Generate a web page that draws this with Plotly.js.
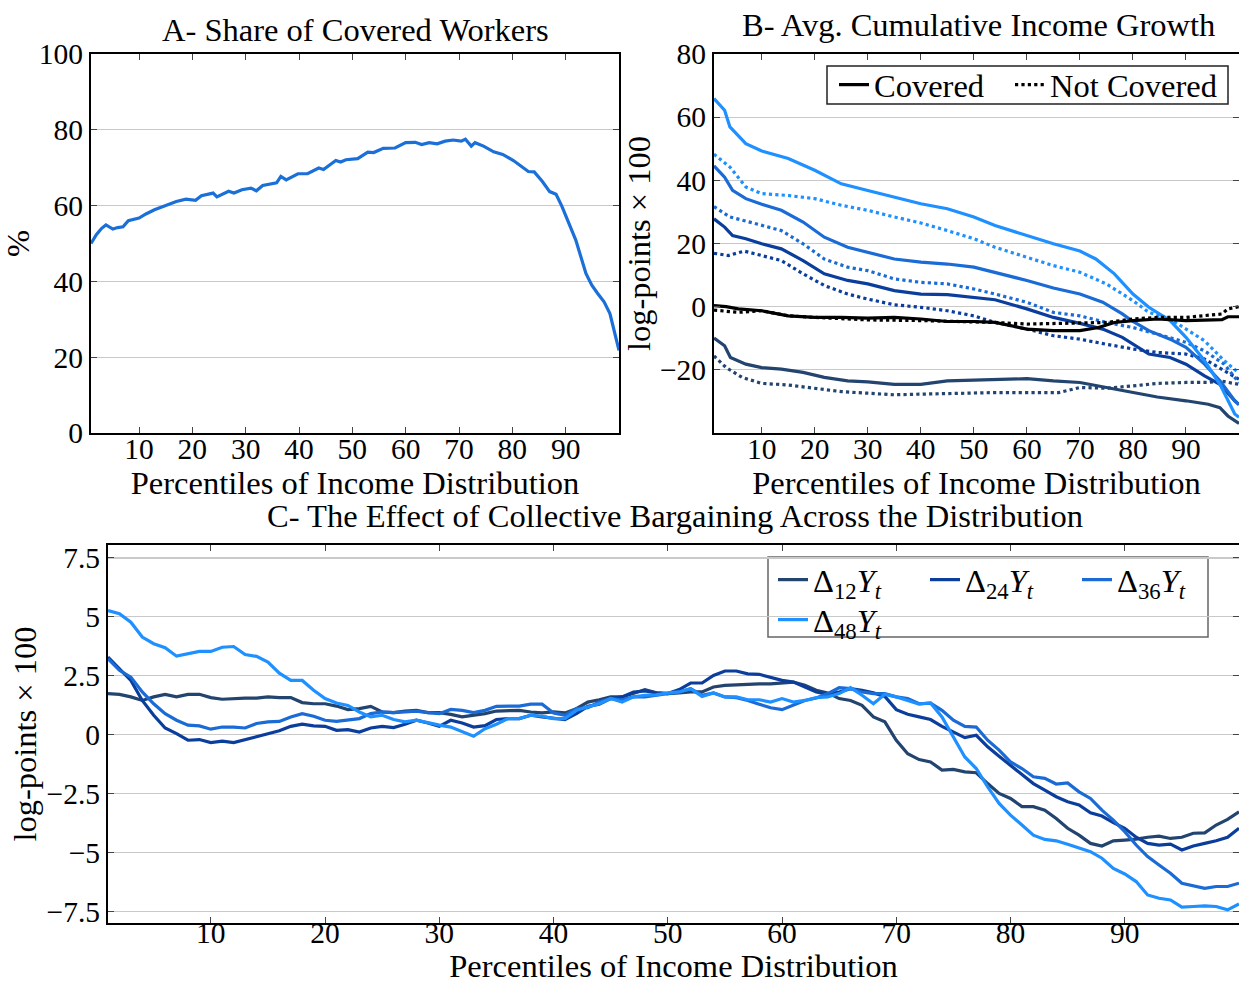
<!DOCTYPE html>
<html><head><meta charset="utf-8">
<script src="https://cdn.plot.ly/plotly-3.0.1.min.js"></script>
<style>html,body{margin:0;padding:0;background:#fff}#chart{width:1239px;height:984px}</style>
</head><body><div id="chart"></div>
<script>
// ---------- Panel A: share of covered workers ----------
const pctA = [1,2,3,3.8,5.1,6,7,8,10,11.3,12.9,15,17,18.8,20.6,21.7,23.9,24.6,26.8,27.8,29.3,31,32,33.2,35.8,36.6,37.6,39.8,41.6,43.7,44.6,46.9,47.8,48.8,51,52.9,54,55.8,58,60,61.8,63,64.4,65.9,67.4,68.9,70.4,71.2,72.3,73,74.6,76.5,78.2,80.2,81.7,83,84.1,85.6,87,88.2,89.3,90.8,91.9,93.8,94.9,96,97.2,98.3,100];
const shareCovered = [50.0,52.3,54.0,54.9,53.8,54.2,54.4,56.0,56.7,57.8,58.9,60.0,61.1,61.7,61.4,62.6,63.3,62.3,63.8,63.3,64.2,64.6,63.9,65.3,66.0,67.7,66.8,68.4,68.4,69.9,69.5,71.9,71.5,72.1,72.4,74.1,74.0,75.1,75.2,76.6,76.7,76.1,76.6,76.3,77.0,77.3,77.0,77.5,75.7,76.6,75.7,74.2,73.5,71.9,70.4,69.0,68.9,66.4,63.7,63.0,59.8,54.5,50.9,42.1,39.0,36.8,34.6,31.5,21.8];

// ---------- Panel B: avg. cumulative income growth ----------
const bX_blackC = [1,3.3,5.6,10,15,20,25,30,35,40,45,50,54,60,65,70,73.5,76.5,80,84.6,90,94.2,96.8,97.9,100];
const bY_blackC = [0.3,0,-0.7,-1.3,-2.9,-3.4,-3.4,-3.6,-3.4,-3.9,-4.7,-4.7,-5,-7.1,-7.6,-7.6,-6.6,-5,-4.4,-3.9,-4.4,-4.2,-4.1,-3.2,-3.2];
const bX_blackN = [1,5.6,10,15,20,30,40,50,54,60,65,70,75,80,84.6,90,94.2,96.8,97.9,100];
const bY_blackN = [-1.1,-1.8,-1.3,-2.9,-3.4,-4.2,-4.4,-4.7,-5,-5.5,-5.3,-5.3,-5,-3.9,-3.4,-3.4,-2.6,-2.3,-0.7,0];
const bX_12C = [1,3,4.1,7,10,13.7,17.8,21.8,26.2,30,35,40,45,50,54,60,65,70,75,80,84.6,90,94.2,96.4,97.9,100];
const bY_12C = [-9.9,-12.4,-16.1,-18.2,-19.3,-19.8,-20.8,-22.4,-23.5,-23.8,-24.6,-24.6,-23.5,-23.3,-23,-22.8,-23.5,-24,-25.6,-27.2,-28.6,-29.8,-30.9,-32,-34.6,-37];
const bX_12N = [1,3.3,6.3,10,15,20,25,30,35,40,45,50,54,60,66,70,75,80,84.6,90,94.2,96.4,100];
const bY_12N = [-15.6,-19.3,-22.4,-24.3,-24.8,-25.8,-26.9,-27.4,-27.9,-27.7,-27.5,-27.2,-27.2,-27.2,-27.2,-25.6,-25.8,-25.1,-24.3,-24,-24,-23.5,-24.6];
const bX_24C = [1,3,4.5,7,10,13.7,17.8,21.8,26.2,30,35,40,45,50,54,60,65,70,74.3,78,80,83,87,90,93.5,96.4,99.2,100];
const bY_24C = [27.8,25.2,22.5,21.5,19.9,18.3,14.6,10.4,8.3,7.2,5.1,4,3.8,3,2.2,-0.7,-3.4,-5.3,-7.1,-9.7,-11.9,-15,-16.1,-18.2,-21.9,-24.6,-29.8,-31];
const bX_24N = [1,3.7,6.7,10,13.7,17.8,21.8,26.2,30,35,40,45,50,54,60,65,70,75,80,84.6,90,93.5,97.2,99.2,100];
const bY_24N = [16.9,16.2,17.6,16.2,14.6,10.4,6.7,4,2.4,0.6,-0.2,-1.3,-2.9,-5,-7.1,-9.2,-10.3,-11.9,-13.4,-14.5,-15,-16.6,-20.3,-22.4,-23];
const bX_36C = [1,3,4.5,7,10,13.7,17.8,21.8,26.2,30,35,40,45,50,54,60,65,70,74.3,78,80,83,87,90,93.5,96.4,99.2,100];
const bY_36C = [44.6,41,36.8,34.2,32.4,30.5,26.8,22,18.8,17.2,15.1,14.1,13.5,12.5,10.9,8.3,5.9,4,1.4,-2.3,-4.7,-7.6,-10.3,-12.9,-18.2,-23.5,-29.8,-31];
const bX_36N = [1,4,7,10,13.7,17.8,21.8,26.2,30,35,40,45,50,54,60,65,70,75,80,84.6,90,93.5,97.2,99.2,100];
const bY_36N = [31.7,28.4,27.1,25.7,24.1,19.9,15.1,12.5,11.4,8.8,7.7,7.2,5.6,4,1.4,-1.8,-2.9,-5,-6.6,-8.7,-11.3,-14,-18.2,-22.4,-24];
const bX_48C = [1,3,4,7,10,15,20,25,30,35,40,45,50,54,60,65,70,73,76.5,80,83,87,90,93.5,96.4,99.2,100];
const bY_48C = [65.9,62.2,56.9,51.6,49.3,46.9,43.2,38.9,36.8,34.7,32.6,31,28.4,25.7,22.5,19.9,17.6,15.1,10.4,4,-0.2,-4.4,-9.7,-17.1,-24.6,-34,-35];
const bX_48N = [1,4,7,10,15,20,25,30,35,40,45,50,54,60,65,70,75,80,83,87,90,93.5,97.2,99.2,100];
const bY_48N = [48.3,44.2,37.9,35.8,35.2,34.2,32.1,30.5,28.4,26.5,24.1,21.5,18.8,15.7,13,10.9,7.2,1.9,-1.8,-3.9,-7.1,-10.8,-17.1,-19.8,-21];

// ---------- Panel C: effect of collective bargaining ----------
const pctC = [1,2,3,4,5,6,7,8,9,10,11,12,13,14,15,16,17,18,19,20,21,22,23,24,25,26,27,28,29,30,31,32,33,34,35,36,37,38,39,40,41,42,43,44,45,46,47,48,49,50,51,52,53,54,55,56,57,58,59,60,61,62,63,64,65,66,67,68,69,70,71,72,73,74,75,76,77,78,79,80,81,82,83,84,85,86,87,88,89,90,91,92,93,94,95,96,97,98,99,100];
const effect12 = [1.74,1.71,1.60,1.45,1.60,1.71,1.60,1.71,1.71,1.57,1.50,1.53,1.55,1.55,1.60,1.57,1.57,1.36,1.31,1.31,1.21,1.06,1.10,1.20,0.96,0.93,1.0,1.03,0.93,0.93,0.86,0.75,0.82,0.89,1.0,1.03,1.03,0.96,0.92,0.96,0.92,1.10,1.38,1.48,1.60,
  1.60,1.74,1.91,1.77,1.74,1.77,1.81,1.81,2.02,2.09,2.12,2.13,2.15,2.15,2.19,2.23,2.09,1.88,1.77,1.53,1.45,1.24,0.75,0.54,-0.24,-0.81,-1.06,-1.16,-1.51,-1.48,-1.58,-1.62,-2.08,-2.50,-2.71,-3.06,-3.06,-3.21,-3.56,-3.98,-4.27,-4.62,-4.73,-4.51,-4.48,-4.44,-4.36,-4.31,-4.41,-4.36,-4.19,-4.17,-3.84,-3.60,-3.28];
const effect24 = [3.29,2.80,2.30,1.45,0.82,0.28,0.04,-0.24,-0.21,-0.34,-0.28,-0.34,-0.21,-0.10,0.04,0.16,0.35,0.44,0.37,0.35,0.18,0.21,0.11,0.28,0.35,0.30,0.44,0.61,0.49,0.35,0.61,0.49,0.32,0.38,0.64,0.68,0.68,0.82,0.75,0.68,0.64,0.89,1.20,1.29,1.53,
  1.60,1.81,1.85,1.77,1.74,1.91,2.19,2.19,2.51,2.70,2.70,2.58,2.56,2.44,2.30,2.23,2.02,1.81,1.71,1.81,1.95,1.88,1.77,1.62,1.06,0.86,0.75,0.64,0.35,0.11,-0.13,-0.03,-0.52,-0.92,-1.30,-1.68,-2.08,-2.36,-2.64,-2.85,-2.99,-3.32,-3.46,-3.74,-3.98,-4.36,-4.62,-4.69,-4.65,-4.90,-4.73,-4.62,-4.51,-4.36,-3.98];
const effect36 = [3.22,2.73,2.44,1.81,1.31,0.89,0.61,0.40,0.37,0.23,0.32,0.32,0.28,0.47,0.54,0.56,0.75,0.89,0.78,0.61,0.56,0.61,0.68,0.89,0.96,0.93,0.96,0.99,0.93,0.89,1.07,1.03,0.93,1.03,1.20,1.20,1.21,1.29,1.29,0.92,0.82,1.10,1.14,1.38,1.53,
  1.48,1.60,1.60,1.67,1.74,1.81,1.95,1.67,1.77,1.60,1.57,1.45,1.29,1.14,1.06,1.24,1.45,1.55,1.74,1.99,1.95,1.81,1.74,1.74,1.60,1.53,1.31,1.34,1.03,0.61,0.35,0.32,-0.24,-0.66,-1.16,-1.44,-1.79,-1.86,-2.10,-2.05,-2.43,-2.71,-3.21,-3.63,-4.12,-4.69,-5.18,-5.54,-5.89,-6.31,-6.43,-6.53,-6.45,-6.45,-6.31];
const effect48 = [5.27,5.13,4.77,4.14,3.86,3.69,3.33,3.43,3.53,3.53,3.71,3.74,3.40,3.32,3.08,2.61,2.30,2.30,1.88,1.53,1.34,1.24,0.96,0.75,0.82,0.64,0.54,0.61,0.49,0.40,0.32,0.14,-0.07,0.25,0.44,0.68,0.68,0.82,0.78,0.68,0.68,1.03,1.17,1.31,1.53,
  1.38,1.60,1.67,1.69,1.77,1.81,1.95,1.62,1.77,1.60,1.60,1.48,1.48,1.38,1.53,1.38,1.45,1.57,1.60,1.74,1.99,1.67,1.31,1.71,1.60,1.45,1.29,1.34,0.75,-0.10,-0.95,-1.44,-2.22,-2.92,-3.42,-3.84,-4.27,-4.45,-4.51,-4.66,-4.83,-4.97,-5.25,-5.68,-5.92,-6.24,-6.81,-6.95,-7.02,-7.33,-7.30,-7.27,-7.30,-7.44,-7.19];

const xTicks = [10,20,30,40,50,60,70,80,90];
const yTicksA = [0,20,40,60,80,100];
const yTicksB = [-20,0,20,40,60,80];
const yTextB = ['\u221220','0','20','40','60','80'];
const yTicksC = [-7.5,-5,-2.5,0,2.5,5,7.5];
const yTextC = ['\u22127.5','\u22125','\u22122.5','0','2.5','5','7.5'];
const legendC = ['\u0394<sub>12</sub><i>Y</i><sub><i>t</i></sub>','\u0394<sub>24</sub><i>Y</i><sub><i>t</i></sub>','\u0394<sub>36</sub><i>Y</i><sub><i>t</i></sub>','\u0394<sub>48</sub><i>Y</i><sub><i>t</i></sub>'];

const COL_A = '#1a6fd8';
const C12 = '#22446f', C24 = '#0b3e9c', C36 = '#1a6bd6', C48 = '#1e90ff';
const FONT = "'Liberation Serif', 'DejaVu Serif', serif";
const FS = 32.5;   // titles, axis titles, legends
const FT = 29.5;   // tick labels

const W = 1239, H = 984;
function px(x){return x/W;}
function py(y){return 1 - y/H;}

function line(x, y, color, dash, xa, ya, extra){
  return Object.assign({type:'scatter', mode:'lines', x:x, y:y, xaxis:xa, yaxis:ya,
    line:{color:color, width:3.2, dash:dash||'solid'}, showlegend:false, hoverinfo:'skip'}, extra||{});
}

const traces = [
  line(pctA, shareCovered, COL_A, 'solid', 'x', 'y'),

  line(bX_12N, bY_12N, C12, 'dot', 'x2', 'y2'),
  line(bX_24N, bY_24N, C24, 'dot', 'x2', 'y2'),
  line(bX_36N, bY_36N, C36, 'dot', 'x2', 'y2'),
  line(bX_48N, bY_48N, C48, 'dot', 'x2', 'y2'),
  line(bX_12C, bY_12C, C12, 'solid', 'x2', 'y2'),
  line(bX_24C, bY_24C, C24, 'solid', 'x2', 'y2'),
  line(bX_36C, bY_36C, C36, 'solid', 'x2', 'y2'),
  line(bX_48C, bY_48C, C48, 'solid', 'x2', 'y2'),
  line(bX_blackC, bY_blackC, '#000000', 'solid', 'x2', 'y2', {showlegend:true, name:'Covered', legend:'legend'}),
  line(bX_blackN, bY_blackN, '#000000', 'dot', 'x2', 'y2', {showlegend:true, name:'Not Covered', legend:'legend4'}),

  line(pctC, effect12, C12, 'solid', 'x3', 'y3', {showlegend:true, name:legendC[0], legend:'legend2'}),
  line(pctC, effect24, C24, 'solid', 'x3', 'y3', {showlegend:true, name:legendC[1], legend:'legend2'}),
  line(pctC, effect36, C36, 'solid', 'x3', 'y3', {showlegend:true, name:legendC[2], legend:'legend2'}),
  line(pctC, effect48, C48, 'solid', 'x3', 'y3', {showlegend:true, name:legendC[3], legend:'legend3'})
];

const tickfont = {family:FONT, size:FT, color:'#000'};
function xAxis(domain, anchor, lift, titleGap){
  return {domain:domain, anchor:anchor, range:[1,100], tickvals:xTicks, ticks:'inside', ticklen:6, tickcolor:'#444', tickwidth:1,
    showline:true, linecolor:'#000', linewidth:2, mirror:'ticks', showgrid:false, zeroline:false, tickfont:tickfont,
    automargin:false, ticklabelstandoff:lift,
    title:{text:'Percentiles of Income Distribution', font:{family:FONT, size:FS, color:'#000'}, standoff:titleGap}};
}
function yAxis(domain, anchor, range, vals, text, title){
  return {domain:domain, anchor:anchor, range:range, tickvals:vals, ticktext:text, ticks:'inside', ticklen:6, tickcolor:'#444', tickwidth:1,
    showline:true, linecolor:'#000', linewidth:2, mirror:'ticks', showgrid:true, gridcolor:'#c9c9c9', gridwidth:1.2,
    zeroline:false, tickfont:tickfont, automargin:false,
    title:{text:title, font:{family:FONT, size:FS, color:'#000'}, standoff:0}};
}

const legFont = {family:FONT, size:FS, color:'#000'};
function leg(xPix, yPix, extra){
  return Object.assign({x:px(xPix), xanchor:'left', y:py(yPix), yanchor:'middle', orientation:'h',
    bgcolor:'rgba(0,0,0,0)', borderwidth:0, font:legFont}, extra||{});
}
const yDomTop = [1-433/H, 1-54/H];
const layout = {
  width:W, height:H,
  margin:{l:0, r:0, t:0, b:0, pad:0},
  paper_bgcolor:'#fff', plot_bgcolor:'#fff',
  font:{family:FONT, size:FS, color:'#000'},
  xaxis: xAxis([91/W, 619/W], 'y', -11, 0),
  yaxis: yAxis(yDomTop, 'x', [0,100], yTicksA, yTicksA.map(String), '%'),
  xaxis2: xAxis([714/W, 1], 'y2', -11, 0),
  yaxis2: yAxis(yDomTop, 'x2', [-40,80], yTicksB, yTextB, 'log-points \u00d7 100'),
  xaxis3: xAxis([108/W, 1], 'y3', -17, 6),
  yaxis3: yAxis([1-923/H, 1-545/H], 'x3', [-8,8.05], yTicksC, yTextC, 'log-points \u00d7 100'),
  legend: leg(834, 85),
  legend4: leg(1010, 85),
  legend2: leg(773, 580, {entrywidth:107}),
  legend3: leg(773, 620),
  shapes:[
    {type:'rect', xref:'paper', yref:'paper', x0:px(827), x1:px(1228), y0:py(104), y1:py(66),
      line:{color:'#222', width:1.5}, fillcolor:'#fff', layer:'below'},
    {type:'rect', xref:'paper', yref:'paper', x0:px(768), x1:px(1208), y0:py(637), y1:py(557),
      line:{color:'#666', width:1.5}, fillcolor:'#fff', layer:'below'}
  ],
  annotations:[
    {text:'A- Share of Covered Workers', xref:'paper', yref:'paper', x:px(355), y:py(30), xanchor:'center', yanchor:'middle', showarrow:false, font:legFont},
    {text:'B- Avg. Cumulative Income Growth', xref:'paper', yref:'paper', x:px(978), y:py(25), xanchor:'center', yanchor:'middle', showarrow:false, font:legFont},
    {text:'C- The Effect of Collective Bargaining Across the Distribution', xref:'paper', yref:'paper', x:px(675), y:py(516), xanchor:'center', yanchor:'middle', showarrow:false, font:legFont}
  ]
};

Plotly.newPlot('chart', traces, layout, {displayModeBar:false, staticPlot:true});
</script></body></html>
